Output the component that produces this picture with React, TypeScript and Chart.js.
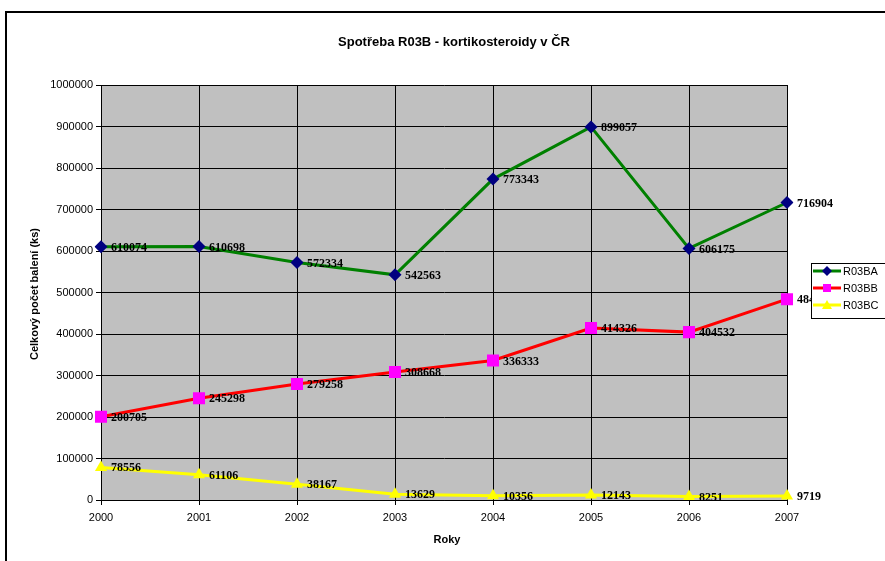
import React, { useEffect, useRef } from "react";
import { Chart, registerables } from "chart.js";

Chart.register(...registerables);

const years = ["2000", "2001", "2002", "2003", "2004", "2005", "2006", "2007"];
const r03ba = [610074, 610698, 572334, 542563, 773343, 899057, 606175, 716904];
const r03bb = [200705, 245298, 279258, 308668, 336333, 414326, 404532, 484000];
const r03bc = [78556, 61106, 38167, 13629, 10356, 12143, 8251, 9719];
const seriesNames = ["R03BA", "R03BB", "R03BC"];
const title = "Spotřeba R03B - kortikosteroidy v ČR";
const yTitle = "Celkový počet balení (ks)";
const xTitle = "Roky";

const lineColors = ["#008000", "#ff0000", "#ffff00"];
const markerColors = ["#000080", "#ff00ff", "#ffff00"];
const markerStyles = ["rectRot", "rect", "triangle"] as const;
const markerRadii = [6.5, 8.5, 7];

const decorPlugin = {
  id: "decor",
  beforeDraw(chart: any) {
    const { ctx, chartArea: a } = chart;
    ctx.save();
    ctx.fillStyle = "#ffffff";
    ctx.fillRect(0, 0, chart.width, chart.height);
    ctx.strokeStyle = "#000";
    ctx.lineWidth = 2;
    ctx.strokeRect(6, 12, 1000, 1000);
    ctx.fillStyle = "#c0c0c0";
    ctx.fillRect(a.left, a.top, a.right - a.left, a.bottom - a.top);
    ctx.strokeStyle = "#808080";
    ctx.lineWidth = 1;
    ctx.strokeRect(a.left + 0.5, a.top + 0.5, a.right - a.left, a.bottom - a.top);
    ctx.fillStyle = "#000";
    ctx.font = "bold 13px Arial, 'Liberation Sans', sans-serif";
    ctx.textAlign = "center";
    ctx.textBaseline = "middle";
    ctx.fillText(title, 454, 42);
    ctx.font = "bold 11px Arial, 'Liberation Sans', sans-serif";
    ctx.fillText(xTitle, 447, 540);
    ctx.translate(35, 294);
    ctx.rotate(-Math.PI / 2);
    ctx.fillText(yTitle, 0, 0);
    ctx.restore();
  },
  afterDatasetsDraw(chart: any) {
    const { ctx } = chart;
    ctx.save();
    ctx.fillStyle = "#000";
    ctx.font = "bold 12px 'Times New Roman', 'Liberation Serif', serif";
    ctx.textAlign = "left";
    ctx.textBaseline = "middle";
    chart.data.datasets.forEach((ds: any, i: number) => {
      const meta = chart.getDatasetMeta(i);
      meta.data.forEach((pt: any, j: number) => {
        ctx.fillText(String(ds.data[j]), pt.x + 10, pt.y + 1);
      });
    });
    ctx.restore();
  },
  afterDraw(chart: any) {
    const { ctx } = chart;
    ctx.save();
    const bx = 811, by = 263.5;
    ctx.fillStyle = "#fff";
    ctx.fillRect(bx, by, 120, 55);
    ctx.strokeStyle = "#000";
    ctx.lineWidth = 1;
    ctx.strokeRect(bx + 0.5, by, 120, 55);
    const rows = [271, 288, 305];
    seriesNames.forEach((name, i) => {
      const y = rows[i];
      ctx.strokeStyle = lineColors[i];
      ctx.lineWidth = 3;
      ctx.beginPath();
      ctx.moveTo(813, y);
      ctx.lineTo(841, y);
      ctx.stroke();
      ctx.fillStyle = markerColors[i];
      ctx.beginPath();
      if (i === 0) {
        ctx.moveTo(827, y - 5);
        ctx.lineTo(832, y);
        ctx.lineTo(827, y + 5);
        ctx.lineTo(822, y);
      } else if (i === 1) {
        ctx.rect(823, y - 4, 8, 8);
      } else {
        ctx.moveTo(827, y - 5);
        ctx.lineTo(832, y + 4);
        ctx.lineTo(822, y + 4);
      }
      ctx.closePath();
      ctx.fill();
      ctx.fillStyle = "#000";
      ctx.font = "11px Arial, 'Liberation Sans', sans-serif";
      ctx.textAlign = "left";
      ctx.textBaseline = "middle";
      ctx.fillText(name, 843, y + 1);
    });
    ctx.restore();
  },
};

export default function App() {
  const ref = useRef<HTMLCanvasElement>(null);
  useEffect(() => {
    document.body.style.margin = "0";
    const datas = [r03ba, r03bb, r03bc];
    const chart = new Chart(ref.current as HTMLCanvasElement, {
      type: "line",
      data: {
        labels: years,
        datasets: datas.map((d, i) => ({
          label: seriesNames[i],
          data: d,
          borderColor: lineColors[i],
          borderWidth: 3,
          backgroundColor: markerColors[i],
          pointBackgroundColor: markerColors[i],
          pointBorderColor: markerColors[i],
          pointStyle: markerStyles[i],
          pointRadius: markerRadii[i],
          pointBorderWidth: 0,
          tension: 0,
          fill: false,
        })),
      },
      options: {
        animation: false,
        responsive: false,
        events: [],
        layout: { padding: { top: 85, right: 98, left: 0, bottom: 0 } },
        plugins: { legend: { display: false }, title: { display: false }, tooltip: { enabled: false } },
        scales: {
          x: {
            offset: false,
            afterFit: (s: any) => { s.height = 61; },
            grid: { color: "#000", lineWidth: 1, drawTicks: true, tickLength: 5, tickColor: "#000" },
            border: { color: "#000", width: 1 },
            ticks: { color: "#000", font: { family: "Arial, 'Liberation Sans', sans-serif", size: 11 }, padding: 6, maxRotation: 0 },
          },
          y: {
            min: 0,
            max: 1000000,
            afterFit: (s: any) => { s.width = 101; },
            grid: { color: "#000", lineWidth: 1, drawTicks: true, tickLength: 5, tickColor: "#000" },
            border: { color: "#000", width: 1 },
            ticks: {
              stepSize: 100000,
              color: "#000",
              font: { family: "Arial, 'Liberation Sans', sans-serif", size: 11 },
              padding: 3,
              callback: (v: any) => String(v),
            },
          },
        },
      },
      plugins: [decorPlugin],
    });
    return () => chart.destroy();
  }, []);
  return (
    <div style={{ position: "absolute", left: 0, top: 0, width: 885, height: 561 }}>
      <canvas ref={ref} width={885} height={561} style={{ width: 885, height: 561 }} />
    </div>
  );
}
